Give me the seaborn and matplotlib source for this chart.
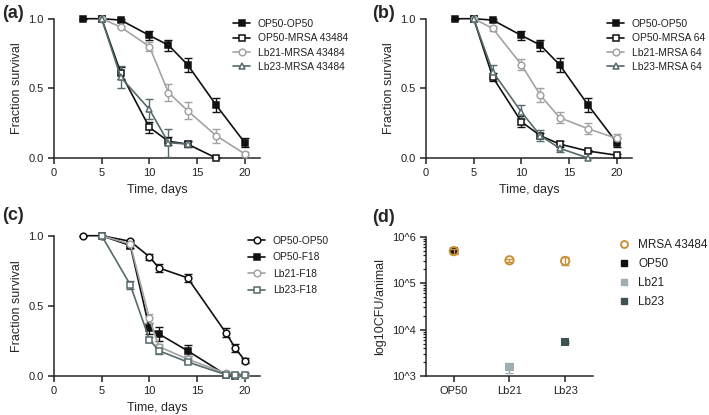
import numpy as np
import pandas as pd
import matplotlib
matplotlib.use("Agg")
import matplotlib.pyplot as plt
import seaborn as sns
from matplotlib.ticker import FixedLocator, LogLocator, NullFormatter
from matplotlib.lines import Line2D

# ---------------- data ----------------
# Panel (a)
a_names = ["OP50-OP50", "OP50-MRSA 43484", "Lb21-MRSA 43484", "Lb23-MRSA 43484"]
a_days = [
    [3, 5, 7, 10, 12, 14, 17, 20],
    [5, 7, 10, 12, 14, 17],
    [5, 7, 10, 12, 14, 17, 20],
    [5, 7, 10, 12, 14],
]
a_vals = [
    [1.0, 1.0, 0.99, 0.88, 0.81, 0.67, 0.38, 0.11],
    [1.0, 0.61, 0.22, 0.12, 0.10, 0.0],
    [1.0, 0.94, 0.80, 0.47, 0.34, 0.16, 0.03],
    [1.0, 0.58, 0.35, 0.11, 0.10],
]
a_errs = [
    [0, 0, 0.01, 0.03, 0.04, 0.05, 0.05, 0.03],
    [0, 0.04, 0.04, 0.03, 0.02, 0.0],
    [0, 0.01, 0.03, 0.06, 0.06, 0.05, 0.01],
    [0, 0.08, 0.07, 0.10, 0.02],
]

# Panel (b)
b_names = ["OP50-OP50", "OP50-MRSA 64", "Lb21-MRSA 64", "Lb23-MRSA 64"]
b_days = [
    [3, 5, 7, 10, 12, 14, 17, 20],
    [5, 7, 10, 12, 14, 17, 20],
    [5, 7, 10, 12, 14, 17, 20],
    [5, 7, 10, 12, 14, 17],
]
b_vals = [
    [1.0, 1.0, 0.99, 0.88, 0.81, 0.67, 0.38, 0.11],
    [1.0, 0.58, 0.26, 0.16, 0.10, 0.05, 0.02],
    [1.0, 0.93, 0.67, 0.45, 0.29, 0.21, 0.14],
    [1.0, 0.62, 0.33, 0.16, 0.07, 0.0],
]
b_errs = [
    [0, 0, 0.01, 0.03, 0.04, 0.05, 0.05, 0.03],
    [0, 0.03, 0.04, 0.02, 0.02, 0.01, 0.01],
    [0, 0.02, 0.04, 0.05, 0.04, 0.04, 0.03],
    [0, 0.05, 0.05, 0.04, 0.03, 0.0],
]

# Panel (c)
c_names = ["OP50-OP50", "OP50-F18", "Lb21-F18", "Lb23-F18"]
c_days = [
    [3, 5, 8, 10, 11, 14, 18, 19, 20],
    [5, 8, 10, 11, 14, 18, 19],
    [5, 8, 10, 11, 14, 18, 19, 20],
    [5, 8, 10, 11, 14, 18, 19, 20],
]
c_vals = [
    [1.0, 1.0, 0.96, 0.85, 0.77, 0.70, 0.31, 0.20, 0.11],
    [1.0, 0.93, 0.34, 0.30, 0.18, 0.01, 0.0],
    [1.0, 0.94, 0.41, 0.21, 0.12, 0.02, 0.01, 0.01],
    [1.0, 0.65, 0.26, 0.18, 0.10, 0.01, 0.01, 0.01],
]
c_errs = [
    [0, 0, 0.01, 0.02, 0.03, 0.03, 0.03, 0.03, 0.02],
    [0, 0.02, 0.04, 0.05, 0.04, 0.01, 0.01],
    [0, 0.01, 0.03, 0.02, 0.02, 0.01, 0.01, 0.01],
    [0, 0.03, 0.02, 0.02, 0.01, 0.01, 0.01, 0.01],
]

# Panel (d)
d_groups = ["OP50", "Lb21", "Lb23"]
d_mrsa = [4.9e5, 3.1e5, 3.0e5]
d_mrsa_err = [0.6e5, 0.2e5, 0.6e5]
d_series = ["OP50", "Lb21", "Lb23"]
d_lacto = [4.9e5, 1.55e3, 5.4e3]
d_lacto_err = [0.5e5, 0.4e3, 0.3e3]

# ---------------- style ----------------
sns.set_theme(style="ticks")
plt.rcParams["font.family"] = ["Liberation Sans", "DejaVu Sans"]
plt.rcParams["axes.linewidth"] = 1.1
plt.rcParams["xtick.major.width"] = 1.1
plt.rcParams["ytick.major.width"] = 1.1
plt.rcParams["xtick.major.size"] = 4
plt.rcParams["ytick.major.size"] = 4
plt.rcParams["xtick.labelsize"] = 8
plt.rcParams["ytick.labelsize"] = 8
plt.rcParams["axes.labelsize"] = 9
plt.rcParams["xtick.color"] = "#222222"
plt.rcParams["ytick.color"] = "#222222"

BLACK = "#111111"
GRAY = "#a3a3a3"
SLATE = "#566a6b"

fig = plt.figure(figsize=(7.09, 4.15), dpi=100)

W, H = 709.0, 415.0


def add_ax(l, t, r, b):
    return fig.add_axes([l / W, 1 - b / H, (r - l) / W, (b - t) / H])


ax_a = add_ax(54, 18.7, 260, 158)
ax_b = add_ax(426, 18.7, 632, 158)
ax_c = add_ax(54, 235.7, 260, 376)
ax_d = add_ax(426, 236.7, 593, 376)


def survival(ax, names, days, vals, errs, styles, legend_xy, spacing):
    for name, d, v, e, (col, mk, filled) in zip(names, days, vals, errs, styles):
        df = pd.DataFrame({"Time": d, "Survival": v})
        ax.errorbar(d, v, yerr=e, fmt="none", ecolor=col, elinewidth=1.0,
                    capsize=2.6, capthick=1.0, clip_on=False, zorder=3)
        sns.lineplot(data=df, x="Time", y="Survival", ax=ax, color=col,
                     marker=mk, markersize=4.8, linewidth=1.2,
                     markerfacecolor=col if filled else "white",
                     markeredgecolor=col, markeredgewidth=1.1,
                     label=name, clip_on=False, zorder=4)
    ax.set_xlim(0, 21.6)
    ax.set_ylim(0, 1.0)
    ax.xaxis.set_major_locator(FixedLocator([0, 5, 10, 15, 20]))
    ax.yaxis.set_major_locator(FixedLocator([0, 0.5, 1.0]))
    ax.set_yticklabels(["0.0", "0.5", "1.0"])
    ax.set_xlabel("Time, days")
    ax.set_ylabel("Fraction survival")
    sns.despine(ax=ax)
    leg = ax.legend(loc="upper left", bbox_to_anchor=legend_xy,
                    bbox_transform=fig.transFigure, frameon=False,
                    fontsize=7.4, handlelength=1.7, handletextpad=0.7,
                    labelspacing=spacing, borderpad=0, borderaxespad=0)
    for t in leg.get_texts():
        t.set_color("#222222")


styles_ab = [(BLACK, "s", True), (BLACK, "s", False), (GRAY, "o", False), (SLATE, "^", False)]
survival(ax_a, a_names, a_days, a_vals, a_errs, styles_ab, (233 / W, 1 - 19 / H), 0.42)
survival(ax_b, b_names, b_days, b_vals, b_errs, styles_ab, (607 / W, 1 - 19 / H), 0.42)
styles_c = [(BLACK, "o", False), (BLACK, "s", True), (GRAY, "o", False), (SLATE, "s", False)]
survival(ax_c, c_names, c_days, c_vals, c_errs, styles_c, (248 / W, 1 - 236 / H), 0.62)

# ---------------- panel (d) ----------------
ORANGE = "#c8913a"
d_cols = {"OP50": "#111111", "Lb21": "#9eadb1", "Lb23": "#3f5152"}

ax = ax_d
ax.set_yscale("log")
dfl = pd.DataFrame({"group": d_groups, "cfu": d_lacto, "series": d_series})
for g, v, e, s in zip(d_groups, d_lacto, d_lacto_err, d_series):
    ax.errorbar([g], [v], yerr=[e], fmt="none", ecolor=d_cols[s],
                elinewidth=1.0, capsize=3, zorder=2)
sns.scatterplot(data=dfl, x="group", y="cfu", hue="series", palette=d_cols,
                marker="s", s=36, linewidth=0, ax=ax, zorder=3, legend=False)
dfm = pd.DataFrame({"group": d_groups, "cfu": d_mrsa})
ax.errorbar(d_groups, d_mrsa, yerr=d_mrsa_err, fmt="none", ecolor=ORANGE,
            elinewidth=1.0, capsize=3, zorder=4)
sns.scatterplot(data=dfm, x="group", y="cfu", marker="o", s=36,
                facecolor="none", edgecolor=ORANGE, linewidth=1.4, ax=ax, zorder=5)
ax.set_xlim(-0.5, 2.5)
ax.set_ylim(1e3, 1e6)
ax.yaxis.set_major_locator(FixedLocator([1e3, 1e4, 1e5, 1e6]))
ax.set_yticklabels(["10^3", "10^4", "10^5", "10^6"])
ax.yaxis.set_minor_locator(LogLocator(base=10, subs=np.arange(2, 10)))
ax.yaxis.set_minor_formatter(NullFormatter())
ax.tick_params(axis="y", which="minor", length=2.5, width=0.9)
ax.set_xlabel("")
ax.set_ylabel("log10CFU/animal")
sns.despine(ax=ax)

handles = [Line2D([], [], linestyle="none", marker="o", markersize=5, markerfacecolor="none",
                  markeredgecolor=ORANGE, markeredgewidth=1.4)]
for s in d_series:
    handles.append(Line2D([], [], linestyle="none", marker="s", markersize=4.5,
                          markerfacecolor=d_cols[s], markeredgecolor=d_cols[s]))
leg = fig.legend(handles, ["MRSA 43484"] + d_series, loc="upper left",
                 bbox_to_anchor=(618 / W, 1 - 239 / H), frameon=False, fontsize=8.5,
                 handlelength=1.0, handletextpad=0.7, labelspacing=0.6,
                 borderpad=0, borderaxespad=0)
for t in leg.get_texts():
    t.set_color("#222222")

# panel letters
for txt, x, y in [("(a)", 2, 13), ("(b)", 372, 13), ("(c)", 2, 215), ("(d)", 372, 217)]:
    fig.text(x / W, 1 - y / H, txt, fontsize=13, fontweight="bold", va="center", ha="left")

fig.savefig("out.png", dpi=100)
